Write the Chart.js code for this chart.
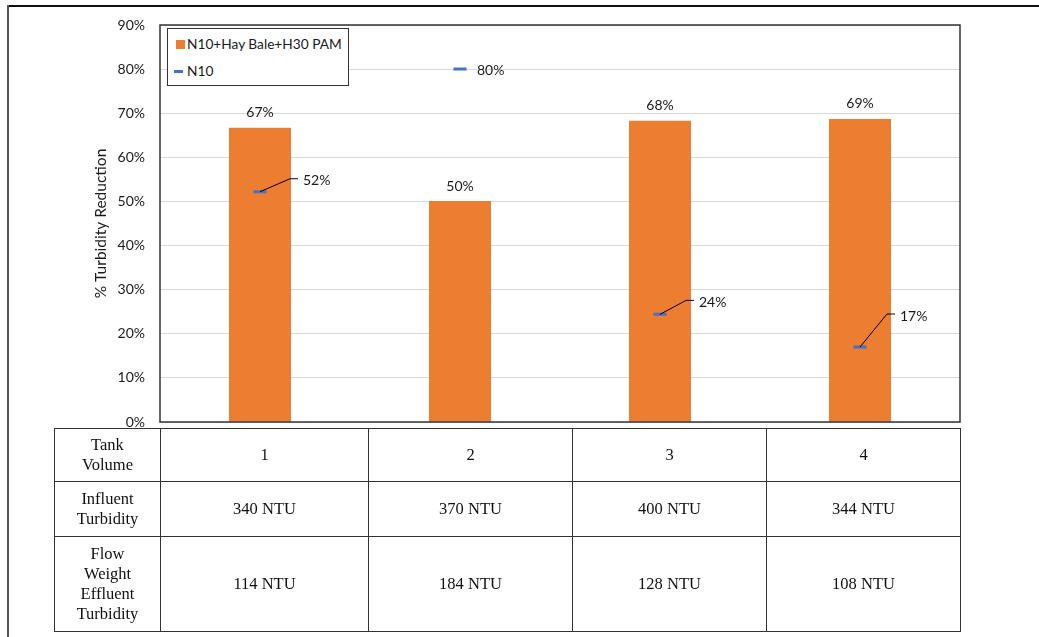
<!DOCTYPE html>
<html>
<head>
<meta charset="utf-8">
<script src="https://cdn.jsdelivr.net/npm/chart.js@4/dist/chart.umd.min.js"></script>
<style>
  html, body { margin: 0; padding: 0; background: #fff; }
  body { width: 1039px; height: 637px; position: relative; overflow: hidden; }
  #wrap { position: absolute; left: 0; top: 0; width: 1039px; height: 637px; }
  #frameTop { position: absolute; left: 8px; top: 5px; width: 1031px; height: 0; border-top: 2px solid #111; }
  #frameLeft { position: absolute; left: 7px; top: 5px; width: 0; height: 632px; border-left: 2px solid #555; }
  #legend { position: absolute; left: 167px; top: 28px; width: 180px; height: 56px; border: 1.5px solid #333; background: #fff;
            font-family: Lato, "Open Sans", sans-serif; font-size: 13.7px; color: #1a1a1a; }
  .li { position: absolute; left: 0; height: 16px; line-height: 16px; white-space: nowrap; }
  .sw { position: absolute; }
  #dataTable { position: absolute; left: 54px; top: 428px; border-collapse: collapse; table-layout: fixed;
               font-family: "Liberation Serif", "Times New Roman", serif; font-size: 16.5px; color: #111; }
  #dataTable td { border: 1.5px solid #333; text-align: center; vertical-align: middle; padding: 0 4px; line-height: 20px; white-space: pre-line; }
</style>
</head>
<body>
<div id="wrap"><canvas id="c" width="1039" height="637"></canvas></div>
<div id="frameTop"></div>
<div id="frameLeft"></div>
<div id="legend"></div>
<table id="dataTable"></table>
<script>
// ---- data ----
const categories = ["1", "2", "3", "4"];
const seriesNames = ["N10+Hay Bale+H30 PAM", "N10"];
const combinedValues = [66.7, 50.1, 68.3, 68.7];
const n10Values = [52.2, 80, 24.4, 17.0];
const yTicks = [0, 10, 20, 30, 40, 50, 60, 70, 80, 90];
const rowHeaders = ["Tank\nVolume", "Influent\nTurbidity", "Flow\nWeight\nEffluent\nTurbidity"];
const influentTurbidity = ["340 NTU", "370 NTU", "400 NTU", "344 NTU"];
const effluentTurbidity = ["114 NTU", "184 NTU", "128 NTU", "108 NTU"];

// ---- styles / label placement (not data) ----
const ORANGE = "#ED7D31";
const BLUE = "#4472C4";
const TEXT = "#1a1a1a";
const FONT_FAMILY = "Lato, 'Open Sans', sans-serif";
const LABEL_FONT = "14px " + FONT_FAMILY;
// offsets of N10 labels from their markers: [dx, dy, leader]
const n10LabelOffsets = [[43, -11, true], [17, 1, false], [39, -12, true], [40, -31, true]];

// ---- legend (HTML) ----
const legend = document.getElementById("legend");
legend.innerHTML =
  '<div class="li" style="top:7px"><span class="sw" style="left:8px;top:4px;width:9px;height:9px;background:' + ORANGE + '"></span>' +
  '<span style="position:absolute;left:19px">' + seriesNames[0] + '</span></div>' +
  '<div class="li" style="top:34px"><span class="sw" style="left:6px;top:7px;width:9px;height:3px;background:' + BLUE + '"></span>' +
  '<span style="position:absolute;left:19px">' + seriesNames[1] + '</span></div>';

// ---- table (HTML) ----
const table = document.getElementById("dataTable");
const colWidths = [106, 208, 204, 194, 194];
const rowHeights = [53, 55, 95];
let html = "<colgroup>" + colWidths.map(w => '<col style="width:' + w + 'px">').join("") + "</colgroup>";
const rows = [categories, influentTurbidity, effluentTurbidity];
rows.forEach((r, i) => {
  html += '<tr style="height:' + rowHeights[i] + 'px"><td>' + rowHeaders[i] + '</td>' + r.map(v => '<td>' + v + '</td>').join("") + '</tr>';
});
table.innerHTML = html;

// ---- plugins ----
const frameAndLabels = {
  id: "frameAndLabels",
  afterDatasetsDraw(chart) {
    const ctx = chart.ctx;
    const a = chart.chartArea;
    ctx.save();
    ctx.strokeStyle = "#333";
    ctx.lineWidth = 1.5;
    ctx.strokeRect(a.left, a.top, a.right - a.left, a.bottom - a.top);

    ctx.font = LABEL_FONT;
    ctx.fillStyle = TEXT;
    ctx.textBaseline = "middle";
    // bar labels
    const barMeta = chart.getDatasetMeta(0);
    ctx.textAlign = "center";
    barMeta.data.forEach((el, i) => {
      ctx.fillText(Math.round(combinedValues[i]) + "%", el.x, el.y - 15);
    });
    // N10 labels with leader lines
    const lineMeta = chart.getDatasetMeta(1);
    ctx.textAlign = "left";
    ctx.strokeStyle = "#000";
    ctx.lineWidth = 1;
    lineMeta.data.forEach((el, i) => {
      const [dx, dy, leader] = n10LabelOffsets[i];
      const tx = el.x + dx, ty = el.y + dy;
      if (leader) {
        ctx.beginPath();
        ctx.moveTo(el.x, el.y);
        ctx.lineTo(tx - 13, ty - 2);
        ctx.lineTo(tx - 5, ty - 2);
        ctx.stroke();
      }
      ctx.fillText(Math.round(n10Values[i]) + "%", tx, ty);
    });
    ctx.restore();
  }
};

// ---- chart ----
new Chart(document.getElementById("c"), {
  data: {
    labels: categories,
    datasets: [
      {
        type: "bar",
        label: seriesNames[0],
        data: combinedValues,
        backgroundColor: ORANGE,
        borderWidth: 0,
        barPercentage: 0.31,
        categoryPercentage: 1,
        order: 2
      },
      {
        type: "line",
        label: seriesNames[1],
        data: n10Values,
        showLine: false,
        pointStyle: "line",
        pointRadius: 6.5,
        pointBorderWidth: 3,
        pointBorderColor: BLUE,
        pointBackgroundColor: BLUE,
        borderColor: BLUE,
        order: 1
      }
    ]
  },
  options: {
    responsive: false,
    animation: false,
    layout: { padding: { left: 88, top: 25, right: 79, bottom: 215 } },
    plugins: { legend: { display: false }, tooltip: { enabled: false } },
    scales: {
      x: { display: false, offset: true, grid: { display: false } },
      y: {
        min: 0, max: 90,
        afterBuildTicks(scale) { scale.ticks = yTicks.map(v => ({ value: v })); },
        afterFit(scale) { scale.width = 72; },
        border: { display: false },
        grid: { color: "#d9d9d9", lineWidth: 1, drawTicks: false },
        ticks: {
          padding: 15,
          color: TEXT,
          font: { family: FONT_FAMILY, size: 14 },
          callback: v => v + "%"
        },
        title: {
          display: true,
          text: "% Turbidity Reduction",
          color: TEXT,
          padding: { top: 4, bottom: 0 },
          font: { family: FONT_FAMILY, size: 15.5 }
        }
      }
    }
  },
  plugins: [frameAndLabels]
});
</script>
</body>
</html>
